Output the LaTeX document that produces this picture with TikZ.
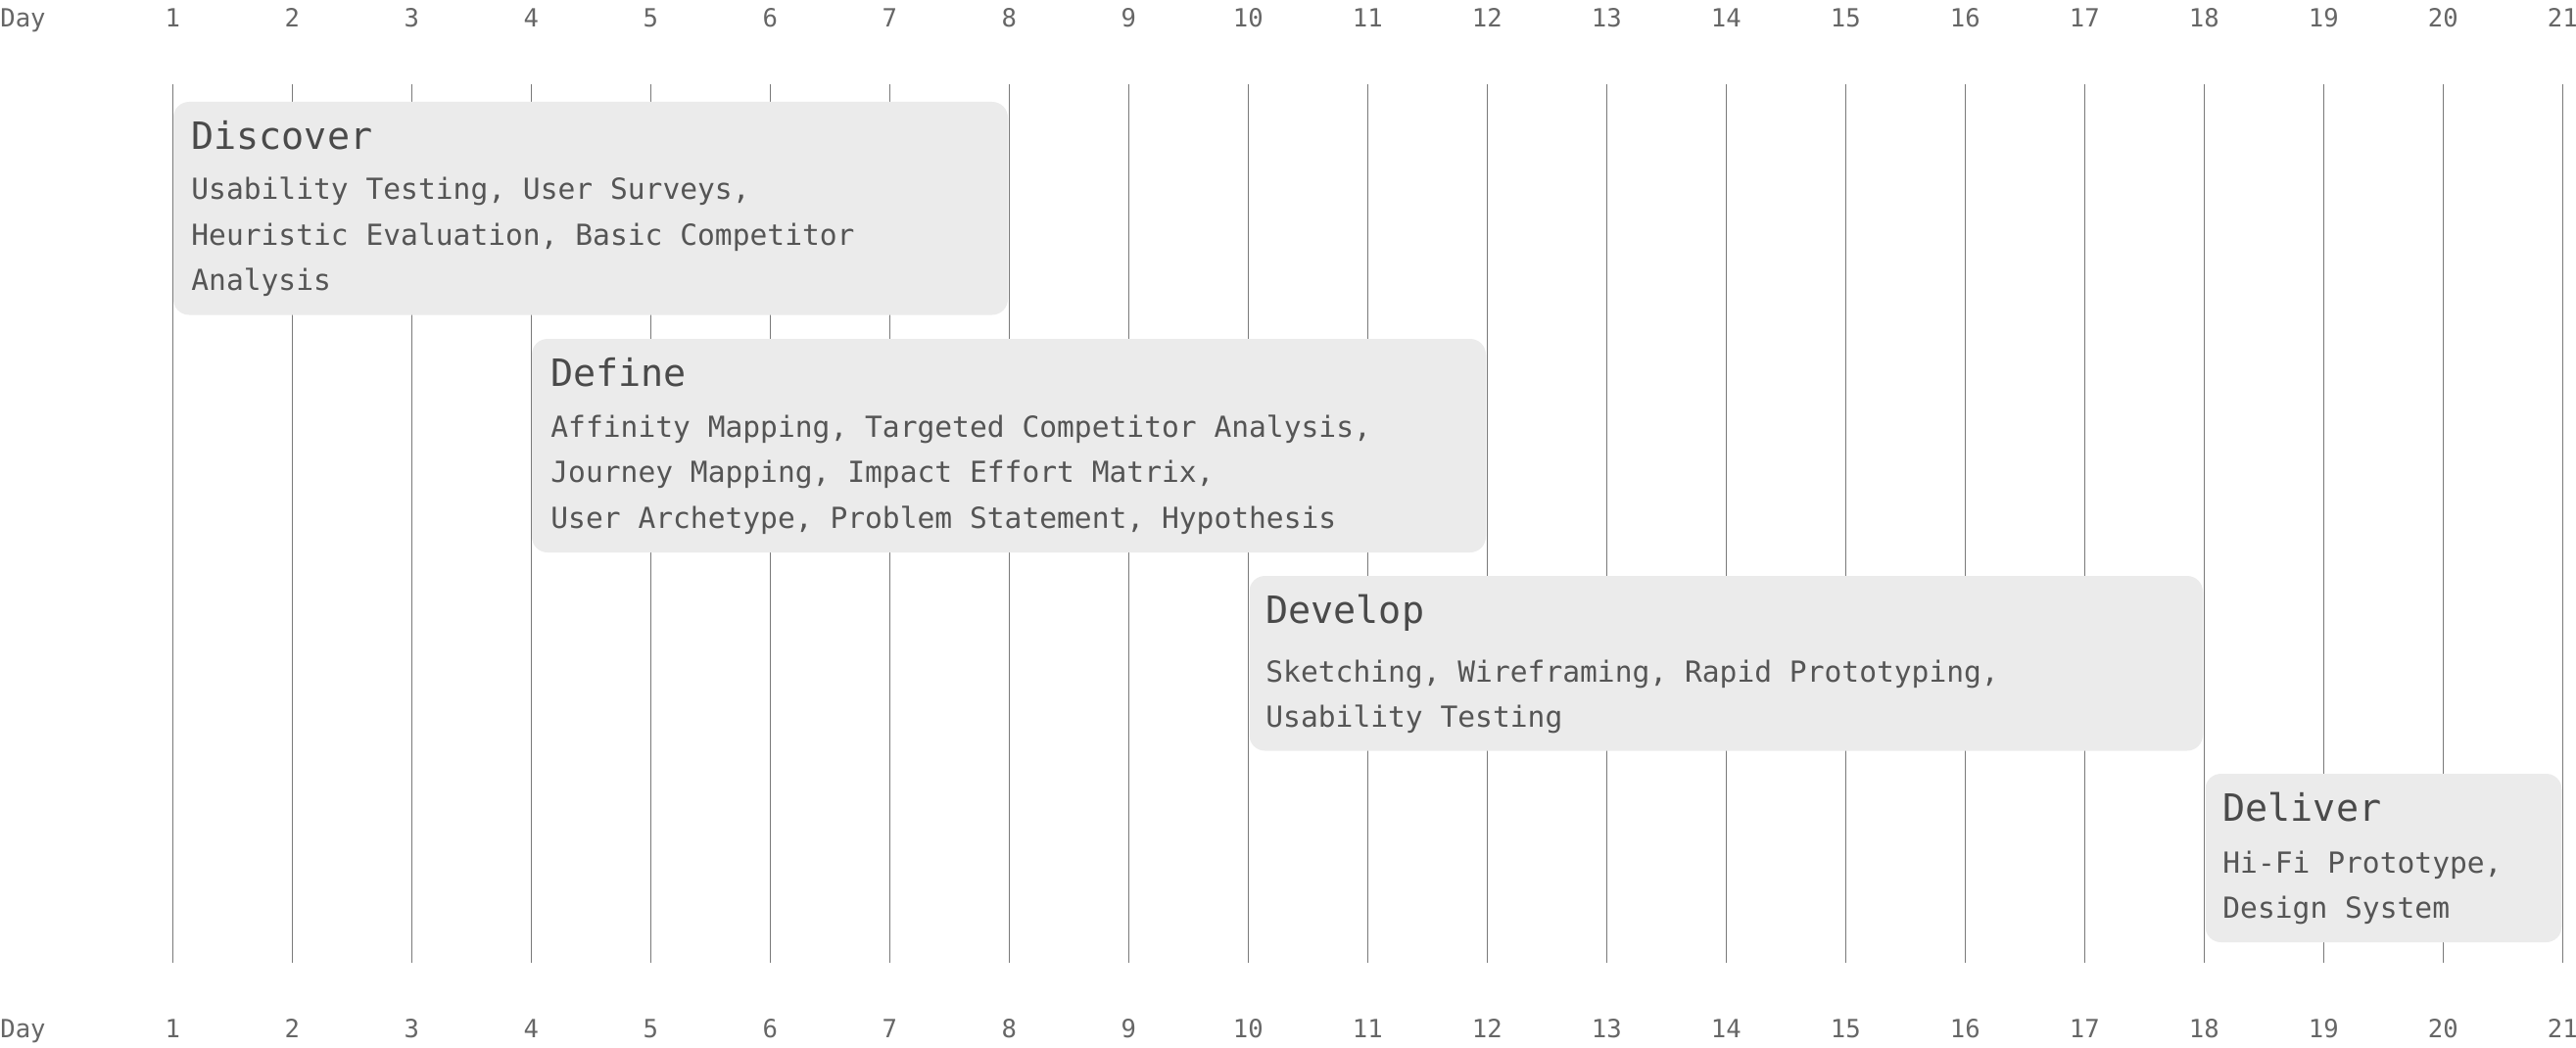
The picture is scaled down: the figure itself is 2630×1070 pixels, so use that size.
\documentclass[tikz,border=0pt]{standalone}
\usepackage{fontspec}
\setmainfont{DejaVu Sans Mono}
\newfontfamily\axisfont{DejaVu Sans Mono}
\definecolor{gridc}{HTML}{7A7A7A}
\definecolor{boxc}{HTML}{EBEBEB}
\definecolor{ttlc}{HTML}{4A4A4A}
\definecolor{txtc}{HTML}{555555}
\definecolor{axc}{HTML}{666666}
\tikzset{
  gridline/.style={draw=gridc, line width=0.65pt},
  phase/.style={fill=boxc, rounded corners=8pt},
  ttl/.style={anchor=base west, inner sep=0pt, text=ttlc, font=\fontsize{19.2}{23}\selectfont},
  bdy/.style={anchor=base west, inner sep=0pt, text=txtc, font=\fontsize{14.8}{23}\selectfont},
  axlab/.style={anchor=base, inner sep=0pt, text=axc, font=\axisfont\fontsize{12.8}{14}\selectfont},
  axday/.style={anchor=base west, inner sep=0pt, text=axc, font=\axisfont\fontsize{12.8}{14}\selectfont}
}
\begin{document}
\begin{tikzpicture}[x=0.5pt,y=-0.5pt]
\useasboundingbox (0,0) rectangle (2630,1070);
% day axis labels and grid lines
\node[axday] (daytop) at (0,28) {Day};
\node[axday] (daybot) at (0,1059) {Day};
\foreach \d in {1,...,21}{
  \pgfmathsetmacro{\xx}{176.3+122*(\d-1)}
  \coordinate (g\d t) at (\xx,86);
  \coordinate (g\d b) at (\xx,983);
  \draw[gridline] (g\d t) -- (g\d b);
  \node[axlab] (lt\d) at (\xx,28) {\d};
  \node[axlab] (lb\d) at (\xx,1059) {\d};
}
% phase boxes
\path[phase] (177,104) rectangle (1029,321.5);
\path[phase] (543,346) rectangle (1517,564);
\path[phase] (1275.5,588) rectangle (2249,766.5);
\path[phase] (2251.5,790) rectangle (2615.5,962);
% Discover
\node[ttl] (discover) at (195,152.5) {Discover};
\node[bdy] (dis1) at (195,204) {Usability Testing, User Surveys,};
\node[bdy] (dis2) at (195,250.5) {Heuristic Evaluation, Basic Competitor};
\node[bdy] (dis3) at (195,296) {Analysis};
% Define
\node[ttl] (define) at (562,394) {Define};
\node[bdy] (def1) at (562,446.5) {Affinity Mapping, Targeted Competitor Analysis,};
\node[bdy] (def2) at (562,492.5) {Journey Mapping, Impact Effort Matrix,};
\node[bdy] (def3) at (562,539) {User Archetype, Problem Statement, Hypothesis};
% Develop
\node[ttl] (develop) at (1292,636) {Develop};
\node[bdy] (dev1) at (1292,696) {Sketching, Wireframing, Rapid Prototyping,};
\node[bdy] (dev2) at (1292,742) {Usability Testing};
% Deliver
\node[ttl] (deliver) at (2269,838.5) {Deliver};
\node[bdy] (del1) at (2269,891.5) {Hi-Fi Prototype,};
\node[bdy] (del2) at (2269,937) {Design System};
\end{tikzpicture}
\end{document}
